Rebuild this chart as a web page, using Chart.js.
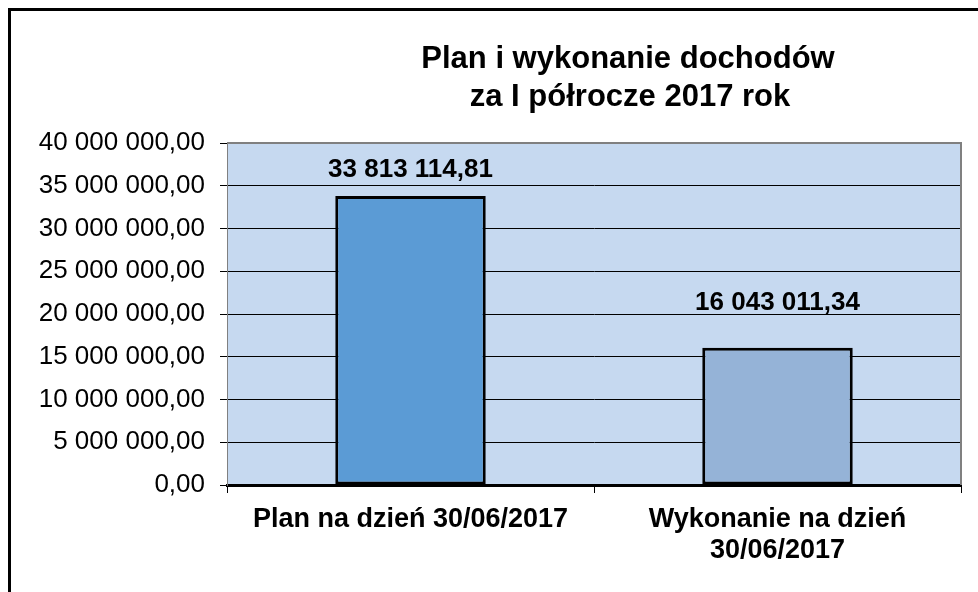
<!DOCTYPE html>
<html>
<head>
<meta charset="utf-8">
<script src="https://cdn.jsdelivr.net/npm/chart.js@4"></script>
<style>
  html, body { margin: 0; padding: 0; background: #fff; overflow: hidden; }
  #chart { position: absolute; left: 0; top: 0; }
</style>
</head>
<body>
<canvas id="chart" width="978" height="592"></canvas>
<script>
// data
const titleLines = ["Plan i wykonanie dochodów", "za I półrocze 2017 rok"];
const categories = [["Plan na dzień 30/06/2017"], ["Wykonanie na dzień", "30/06/2017"]];
const values = [33813114.81, 16043011.34];
const barColors = ["#5B9BD5", "#95B3D7"];
const yMin = 0;
const yMax = 40000000;
const yStep = 5000000;

// polish number format: "33 813 114,81"
function plFormat(v) {
  const parts = Number(v).toFixed(2).split(".");
  return parts[0].replace(/\B(?=(\d{3})+(?!\d))/g, " ") + "," + parts[1];
}

const FONT = "'Liberation Sans', Arial, sans-serif";

const decorations = {
  id: "decorations",
  beforeDraw(chart) {
    const { ctx, chartArea: a } = chart;
    ctx.save();
    // plot area background
    ctx.fillStyle = "#C6D9F0";
    ctx.fillRect(a.left, a.top, a.right - a.left, a.bottom - a.top);
    // outer frame (only left and top visible)
    ctx.strokeStyle = "#000";
    ctx.lineWidth = 3;
    ctx.beginPath();
    ctx.moveTo(9.5, chart.height);
    ctx.lineTo(9.5, 9.5);
    ctx.lineTo(chart.width, 9.5);
    ctx.stroke();
    // title
    ctx.fillStyle = "#000";
    ctx.font = "bold 31px " + FONT;
    ctx.textAlign = "center";
    ctx.textBaseline = "alphabetic";
    ctx.fillText(titleLines[0], 628, 68);
    ctx.fillText(titleLines[1], 630, 106);
    ctx.restore();
  },
  afterDatasetsDraw(chart, args, opts) {
    const { ctx, chartArea: a } = chart;
    ctx.save();
    // gray top / right plot border
    ctx.strokeStyle = "#808080";
    ctx.lineWidth = 2;
    ctx.beginPath();
    ctx.moveTo(a.left, a.top);
    ctx.lineTo(a.right, a.top);
    ctx.lineTo(a.right, a.bottom);
    ctx.stroke();
    // value labels
    ctx.fillStyle = "#000";
    ctx.font = "bold 26px " + FONT;
    ctx.textAlign = "center";
    ctx.textBaseline = "alphabetic";
    const meta = chart.getDatasetMeta(0);
    meta.data.forEach((bar, i) => {
      const v = chart.data.datasets[0].data[i];
      ctx.fillText(plFormat(v), bar.x, bar.y - opts.gaps[i]);
    });
    ctx.restore();
  }
};

new Chart(document.getElementById("chart"), {
  type: "bar",
  data: {
    labels: categories,
    datasets: [{
      data: values,
      backgroundColor: barColors,
      borderColor: "#000",
      borderWidth: 3,
      borderSkipped: false,
      categoryPercentage: 1,
      barPercentage: 0.41
    }]
  },
  options: {
    responsive: false,
    animation: false,
    layout: { padding: { left: 0, top: 143, right: 17, bottom: 0 } },
    plugins: {
      legend: { display: false },
      title: { display: false },
      tooltip: { enabled: false },
      decorations: { gaps: [19, 38] }
    },
    scales: {
      x: {
        afterFit(scale) { scale.height = 107; },
        grid: {
          offset: true,
          drawOnChartArea: false,
          drawTicks: true,
          tickLength: 8,
          color: "#000",
          lineWidth: 1
        },
        border: { display: true, color: "#000", width: 3 },
        ticks: {
          color: "#000",
          padding: 11,
          maxRotation: 0,
          font: { family: FONT, size: 27, weight: "bold", lineHeight: 1.15 }
        }
      },
      y: {
        min: yMin,
        max: yMax,
        afterFit(scale) { scale.width = 227; },
        grid: {
          color: "#000",
          lineWidth: 1,
          drawTicks: true,
          tickLength: 7
        },
        border: { display: true, color: "#808080", width: 1 },
        ticks: {
          stepSize: yStep,
          color: "#000",
          padding: 15,
          font: { family: FONT, size: 26 },
          callback: v => plFormat(v)
        }
      }
    }
  },
  plugins: [decorations]
});
</script>
</body>
</html>
